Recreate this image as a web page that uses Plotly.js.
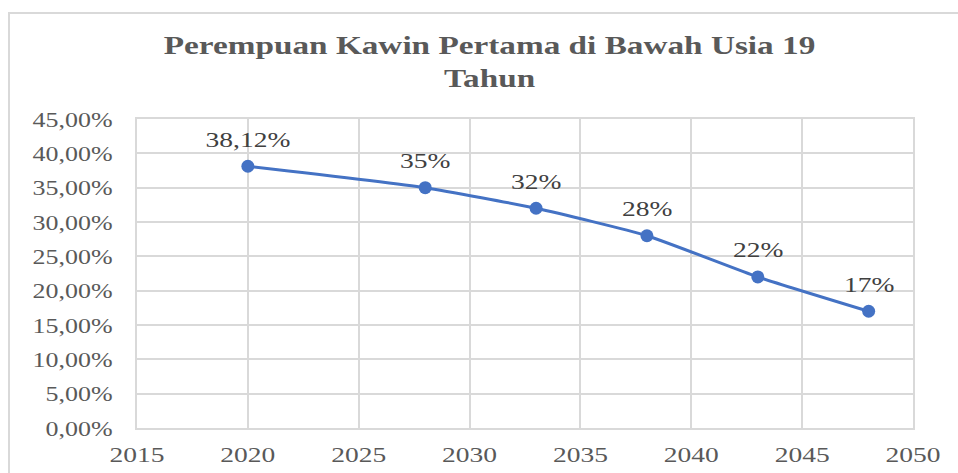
<!DOCTYPE html>
<html>
<head>
<meta charset="utf-8">
<script src="https://cdn.plot.ly/plotly-3.0.1.min.js"></script>
<style>html,body{margin:0;padding:0;background:#fff;}#chart{width:958px;height:473px;}</style>
</head>
<body>
<div id="chart"></div>
<script>
const years = [2020, 2028, 2033, 2038, 2043, 2048];
const shares = [0.3812, 0.35, 0.32, 0.28, 0.22, 0.17];
const pointLabels = ["38,12%", "35%", "32%", "28%", "22%", "17%"];
const xTicks = [2015, 2020, 2025, 2030, 2035, 2040, 2045, 2050];
const titleText = "Perempuan Kawin Pertama di Bawah Usia 19<br>Tahun";

const serif = "'Liberation Serif', 'Times New Roman', Times, serif";
const trace = {
  x: years, y: shares, type: 'scatter', mode: 'lines+markers',
  line: {color: '#4472C4', width: 3, shape: 'spline', smoothing: 0.5},
  marker: {color: '#4472C4', size: 13},
  cliponaxis: false, hoverinfo: 'none'
};
const annotations = years.map((yr, i) => ({
  x: yr, y: shares[i], xref: 'x', yref: 'y', text: pointLabels[i],
  showarrow: false, yshift: 27,
  font: {family: serif, size: 22, color: '#404040'}
}));
const layout = {
  width: 958, height: 473,
  margin: {l: 137, r: 45, t: 119, b: 45},
  paper_bgcolor: '#fff', plot_bgcolor: '#fff',
  separators: ',.',
  showlegend: false,
  font: {family: serif},
  title: {text: titleText, x: 0.511, xref: 'container', y: 1 - 54/473, yref: 'container', yanchor: 'middle',
    font: {family: serif, size: 25, color: '#595959', weight: 'bold'}},
  xaxis: {range: [2015, 2050], tickvals: xTicks, ticktext: xTicks.map(String),
    showgrid: true, gridcolor: '#d9d9d9', gridwidth: 2, zeroline: false,
    showline: true, linecolor: '#d9d9d9', linewidth: 2, mirror: true,
    ticks: 'outside', ticklen: 6, tickcolor: 'rgba(0,0,0,0)',
    tickfont: {family: serif, size: 22, color: '#595959'}},
  yaxis: {range: [0, 0.45], dtick: 0.05, tickformat: '.2%',
    showgrid: true, gridcolor: '#d9d9d9', gridwidth: 2, zeroline: false,
    showline: true, linecolor: '#d9d9d9', linewidth: 2, mirror: true,
    ticks: 'outside', ticklen: 18, tickcolor: 'rgba(0,0,0,0)',
    tickfont: {family: serif, size: 22, color: '#595959'}},
  annotations: annotations,
  shapes: [{type: 'rect', xref: 'paper', yref: 'paper',
    x0: (9 - 137) / 776, x1: (965 - 137) / 776, y0: (428 - 480) / 309, y1: (428 - 13) / 309,
    line: {color: '#d9d9d9', width: 2}, fillcolor: 'rgba(0,0,0,0)', layer: 'below'}]
};
Plotly.newPlot('chart', [trace], layout, {displayModeBar: false, staticPlot: true}).then(gd => {
  // the reference text is horizontally stretched; widen glyphs to match
  gd.querySelectorAll('svg text').forEach(t => {
    let f = 1.25;
    if (t.classList.contains('gtitle')) f = 1.33;
    else if (t.closest('.ytick')) f = 1.18;
    const lines = t.querySelectorAll('tspan.line');
    const targets = lines.length ? Array.from(lines) : [t];
    targets.forEach(el => {
      const w = el.getComputedTextLength();
      if (w > 0) {
        el.setAttribute('textLength', (w * f).toFixed(1));
        el.setAttribute('lengthAdjust', 'spacingAndGlyphs');
      }
    });
  });
});
</script>
</body>
</html>
